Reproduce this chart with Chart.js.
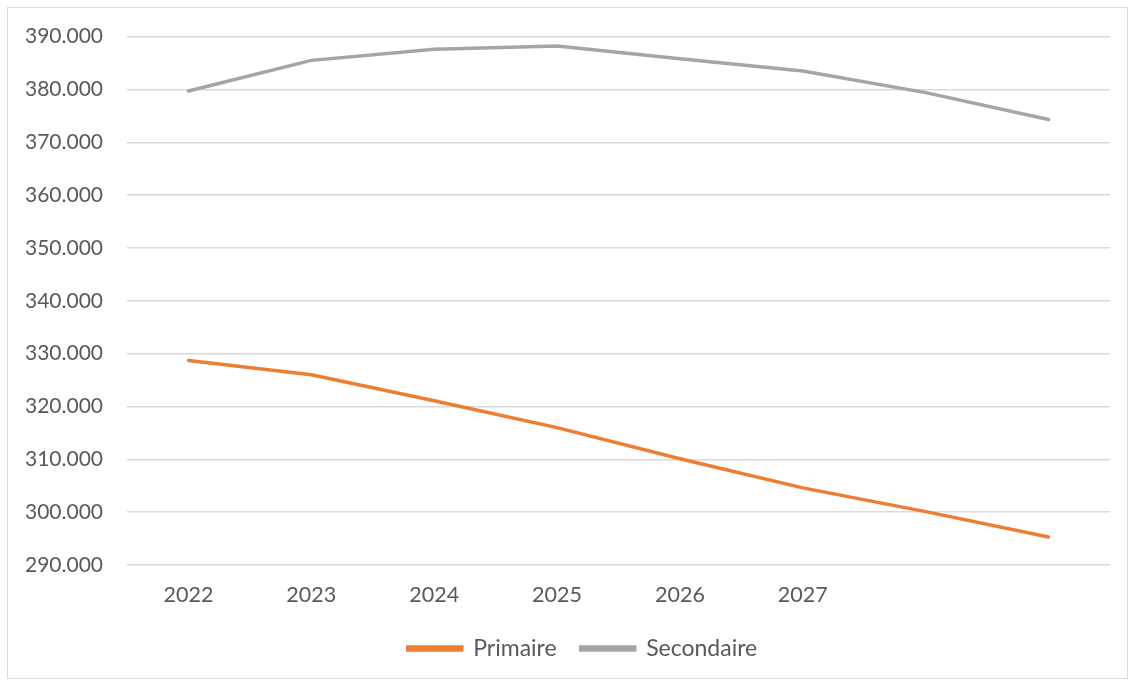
<!DOCTYPE html>
<html>
<head>
<meta charset="utf-8">
<style>
  html, body { margin: 0; padding: 0; background: #ffffff; }
  #wrap { position: relative; width: 1132px; height: 682px; }
</style>
<script src="https://cdn.jsdelivr.net/npm/chart.js@4"></script>
</head>
<body>
<div id="wrap"><canvas id="chart" width="1132" height="682"></canvas></div>
<script>
// Years on the category axis (the last two are left unlabeled)
const years = ['2022', '2023', '2024', '2025', '2026', '2027', '', ''];

// Pupil numbers per level
const primaire = [328700, 326000, 321100, 316000, 310100, 304600, 300100, 295300];
const secondaire = [379700, 385500, 387600, 388200, 385800, 383500, 379400, 374300];

// Value axis range and step
const yMin = 290000;
const yMax = 390000;
const yStep = 10000;

const ORANGE = '#ED7D31';
const GREY = '#A5A5A5';
const TEXT = '#595959';
const GRID = '#D9D9D9';

// Thousands separated by a dot: 390000 -> "390.000"
function fmt(v) {
  return String(Math.round(v)).replace(/\B(?=(\d{3})+(?!\d))/g, '.');
}

// White background with a thin frame around the whole chart
const frame = {
  id: 'frame',
  beforeDraw(chart) {
    const ctx = chart.ctx;
    ctx.save();
    ctx.fillStyle = '#ffffff';
    ctx.fillRect(0, 0, chart.width, chart.height);
    ctx.strokeStyle = GRID;
    ctx.lineWidth = 1;
    ctx.strokeRect(7.5, 7.5, 1120, 671);
    ctx.restore();
  }
};

// Centre the legend under the plot area rather than the full canvas
const legendShift = {
  id: 'legendShift',
  afterLayout(chart) {
    const lg = chart.legend;
    if (!lg) return;
    const dx = (chart.chartArea.left + chart.chartArea.right) / 2 - (lg.left + lg.right) / 2 - 36;
    lg.left += dx;
    lg.right += dx;
  }
};

new Chart(document.getElementById('chart'), {
  type: 'line',
  data: {
    labels: years,
    datasets: [
      {
        label: 'Primaire',
        data: primaire,
        borderColor: ORANGE,
        backgroundColor: ORANGE,
        borderWidth: 3.5,
        pointRadius: 0,
        tension: 0,
        borderCapStyle: 'round'
      },
      {
        label: 'Secondaire',
        data: secondaire,
        borderColor: GREY,
        backgroundColor: GREY,
        borderWidth: 3.5,
        pointRadius: 0,
        tension: 0,
        borderCapStyle: 'round'
      }
    ]
  },
  options: {
    responsive: false,
    animation: false,
    layout: { padding: { left: 20, right: 22, top: 32, bottom: 12 } },
    plugins: {
      legend: {
        position: 'bottom',
        labels: {
          color: TEXT,
          font: { family: 'Lato', size: 23 },
          boxWidth: 54,
          boxHeight: 3,
          padding: 24
        }
      },
      tooltip: { enabled: false }
    },
    scales: {
      x: {
        offset: true,
        grid: { display: false, drawTicks: false },
        border: { display: false },
        ticks: {
          color: TEXT,
          font: { family: 'Lato', size: 21.5 },
          padding: 17,
          autoSkip: false,
          maxRotation: 0
        },
        afterFit(scale) { scale.height = 48; }
      },
      y: {
        min: yMin,
        max: yMax,
        grid: { color: GRID, lineWidth: 1.5, drawTicks: false },
        border: { display: false },
        ticks: {
          stepSize: yStep,
          color: TEXT,
          font: { family: 'Lato', size: 21 },
          padding: 24,
          callback: (v) => fmt(v)
        },
        afterFit(scale) { scale.width = 107; }
      }
    }
  },
  plugins: [frame, legendShift]
});
</script>
</body>
</html>
